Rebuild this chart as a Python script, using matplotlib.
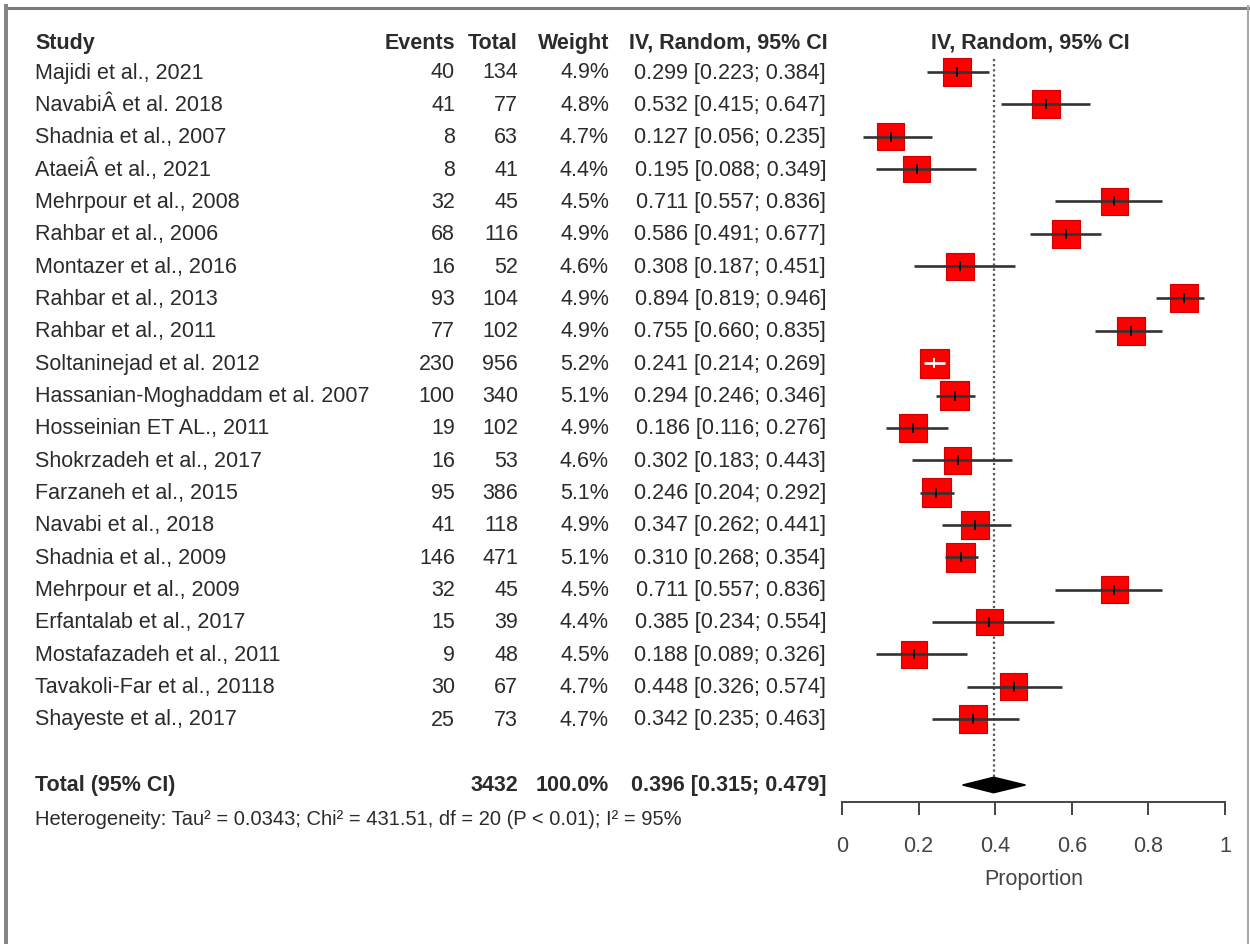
import numpy as np
import matplotlib.pyplot as plt
from matplotlib.lines import Line2D
from matplotlib.transforms import blended_transform_factory

studies = [
    "Majidi et al., 2021", "NavabiÂ et al. 2018", "Shadnia et al., 2007",
    "AtaeiÂ et al., 2021", "Mehrpour et al., 2008", "Rahbar et al., 2006",
    "Montazer et al., 2016", "Rahbar et al., 2013", "Rahbar et al., 2011",
    "Soltaninejad et al. 2012", "Hassanian-Moghaddam et al. 2007",
    "Hosseinian ET AL., 2011", "Shokrzadeh et al., 2017", "Farzaneh et al., 2015",
    "Navabi et al., 2018", "Shadnia et al., 2009", "Mehrpour et al., 2009",
    "Erfantalab et al., 2017", "Mostafazadeh et al., 2011",
    "Tavakoli-Far et al., 20118", "Shayeste et al., 2017",
]
events = [40, 41, 8, 8, 32, 68, 16, 93, 77, 230, 100, 19, 16, 95, 41, 146, 32, 15, 9, 30, 25]
totals = [134, 77, 63, 41, 45, 116, 52, 104, 102, 956, 340, 102, 53, 386, 118, 471, 45, 39, 48, 67, 73]
weights = [4.9, 4.8, 4.7, 4.4, 4.5, 4.9, 4.6, 4.9, 4.9, 5.2, 5.1, 4.9, 4.6, 5.1, 4.9, 5.1, 4.5, 4.4, 4.5, 4.7, 4.7]
est = [0.299, 0.532, 0.127, 0.195, 0.711, 0.586, 0.308, 0.894, 0.755, 0.241, 0.294,
       0.186, 0.302, 0.246, 0.347, 0.310, 0.711, 0.385, 0.188, 0.448, 0.342]
lower = [0.223, 0.415, 0.056, 0.088, 0.557, 0.491, 0.187, 0.819, 0.660, 0.214, 0.246,
         0.116, 0.183, 0.204, 0.262, 0.268, 0.557, 0.234, 0.089, 0.326, 0.235]
upper = [0.384, 0.647, 0.235, 0.349, 0.836, 0.677, 0.451, 0.946, 0.835, 0.269, 0.346,
         0.276, 0.443, 0.292, 0.441, 0.354, 0.836, 0.554, 0.326, 0.574, 0.463]

pooled, pooled_lo, pooled_hi = 0.396, 0.315, 0.479
total_n = 3432
het_text = "Heterogeneity: Tau² = 0.0343; Chi² = 431.51, df = 20 (P < 0.01); I² = 95%"
xticks = [0, 0.2, 0.4, 0.6, 0.8, 1]
xtick_labels = ["0", "0.2", "0.4", "0.6", "0.8", "1"]

plt.rcParams['font.family'] = ['Liberation Sans', 'DejaVu Sans']
TXT = "#2b2b2b"
FS = 15.5

W, H = 1250, 945
fig = plt.figure(figsize=(12.5, 9.45), dpi=100)

def fx(px):
    return px / W

# forest panel: x=0 at pixel 842, x=1 at pixel 1225, axis line at pixel 803
ax = fig.add_axes([fx(842), 1 - 803 / H, fx(383), (803 - 25) / H])
row_px = 32.35
ax.set_ylim((803 - 73) / row_px + 1, (25 - 73) / row_px + 1)
ax.set_xlim(0, 1)
ax.patch.set_alpha(0)

rows = np.arange(1, len(studies) + 1)
total_row = 23.04
het_row = 24.09
head_row = 0.08

# squares
side_px = 28 * np.sqrt(np.array(weights) / 4.9)
ax.scatter(est, rows, marker="s", s=(side_px * 0.72) ** 2, color="#ff0000",
           edgecolor="#d00000", linewidth=0.8, zorder=3, clip_on=False)

# confidence intervals (white when inside the box)
half = side_px / 2 / 383
for r, e, lo, hi, h in zip(rows, est, lower, upper, half):
    inside = (lo > e - h) and (hi < e + h)
    col = "white" if inside else "#333333"
    ax.plot([lo, hi], [r, r], color=col, lw=1.9, zorder=4, clip_on=False,
            solid_capstyle="butt")
    ax.plot([e], [r], marker="|", ms=7, mew=1.4, color=col if inside else "#111111",
            zorder=5, clip_on=False)

# pooled estimate
ax.plot([pooled, pooled], [0.6, total_row], color="#555555", lw=1.6,
        linestyle=(0, (1, 1.3)), zorder=2)
dh = 0.24
ax.fill([pooled_lo, pooled, pooled_hi, pooled],
        [total_row, total_row - dh, total_row, total_row + dh],
        color="black", zorder=6)

# axis
for s in ["top", "left", "right"]:
    ax.spines[s].set_visible(False)
ax.spines["bottom"].set_linewidth(1.4)
ax.spines["bottom"].set_color("#444444")
ax.set_yticks([])
ax.set_xticks(xticks)
ax.set_xticklabels(xtick_labels)
ax.tick_params(axis="x", length=9.5, width=1.4, color="#444444",
               labelsize=FS, labelcolor="#444444", pad=14)
ax.set_xlabel("Proportion", fontsize=FS, color="#444444", labelpad=9)

# text columns
tr = blended_transform_factory(fig.transFigure, ax.transData)
kw = dict(transform=tr, va="center", fontsize=FS, color=TXT, clip_on=False)
ax.text(fx(35), head_row, "Study", ha="left", fontweight="bold", **kw)
ax.text(fx(455), head_row, "Events", ha="right", fontweight="bold", **kw)
ax.text(fx(518), head_row, "Total", ha="right", fontweight="bold", **kw)
ax.text(fx(609), head_row, "Weight", ha="right", fontweight="bold", **kw)
ax.text(fx(828), head_row, "IV, Random, 95% CI", ha="right", fontweight="bold", **kw)
ax.text(fx(1030), head_row, "IV, Random, 95% CI", ha="center", fontweight="bold", **kw)

for r, name, ev, n, w, e, lo, hi in zip(rows, studies, events, totals, weights, est, lower, upper):
    ax.text(fx(35), r, name, ha="left", **kw)
    ax.text(fx(455), r, str(ev), ha="right", **kw)
    ax.text(fx(518), r, str(n), ha="right", **kw)
    ax.text(fx(609), r, f"{w:.1f}%", ha="right", **kw)
    ax.text(fx(826), r, f"{e:.3f} [{lo:.3f}; {hi:.3f}]", ha="right", **kw)

ax.text(fx(35), total_row, "Total (95% CI)", ha="left", fontweight="bold", **kw)
ax.text(fx(518), total_row, str(total_n), ha="right", fontweight="bold", **kw)
ax.text(fx(609), total_row, "100.0%", ha="right", fontweight="bold", **kw)
ax.text(fx(826), total_row, f"{pooled:.3f} [{pooled_lo:.3f}; {pooled_hi:.3f}]",
        ha="right", fontweight="bold", **kw)
ax.text(fx(35), het_row, het_text, ha="left", transform=tr, va="center",
        fontsize=14.5, color=TXT, clip_on=False)

# frame around the picture
def fline(x0, y0, x1, y1, color, lw):
    fig.add_artist(Line2D([fx(x0), fx(x1)], [1 - y0 / H, 1 - y1 / H],
                          transform=fig.transFigure, color=color, lw=lw))

fline(6, 8.5, 1248, 8.5, "#7a7a7a", 2.2)
fline(6, 7, 6, 945, "#858585", 2.9)
fline(1248, 7, 1248, 945, "#a8a8a8", 1.5)

fig.savefig("out.png", dpi=100)
